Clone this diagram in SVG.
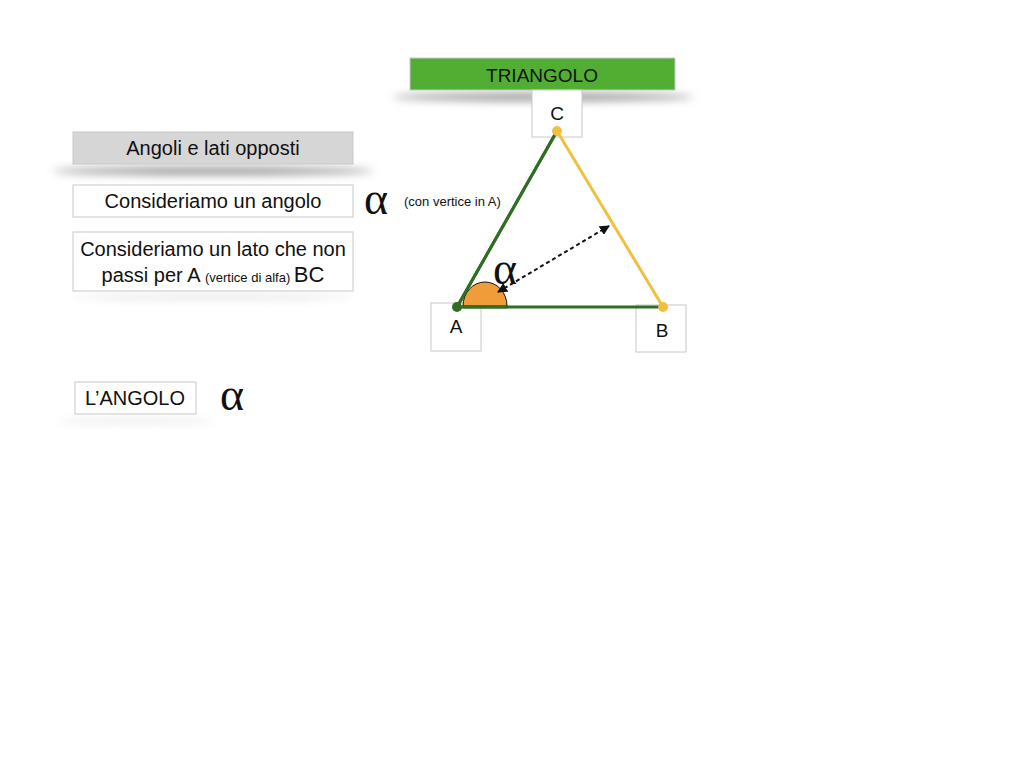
<svg xmlns="http://www.w3.org/2000/svg" width="1024" height="768" viewBox="0 0 1024 768">
<defs>
<style>
.t{font-family:"Liberation Sans",Arial,sans-serif;fill:#111}
.box{fill:#fff;stroke:#c8c8c8;stroke-width:1}
.al{font-family:"Liberation Serif","Times New Roman",serif;fill:#111}
</style>
<filter id="sh" x="-20%" y="-200%" width="140%" height="500%"><feGaussianBlur stdDeviation="4"/></filter>
<marker id="ah" viewBox="0 0 10 10" refX="9" refY="5" markerWidth="10" markerHeight="10" markerUnits="userSpaceOnUse" orient="auto-start-reverse"><path d="M0,0 L10,5 L0,10 z" fill="#111"/></marker>
</defs>
<rect width="1024" height="768" fill="#fff"/>
<g id="shadows">
<ellipse cx="543" cy="97" rx="150" ry="4" fill="#999" filter="url(#sh)"/>
<ellipse cx="213" cy="171" rx="160" ry="4" fill="#999" filter="url(#sh)"/>
<ellipse cx="213" cy="297" rx="140" ry="2" fill="#ddd" filter="url(#sh)"/>
<ellipse cx="136" cy="421" rx="80" ry="2" fill="#e4e4e4" filter="url(#sh)"/>
</g>
<g id="title"><rect x="410" y="58" width="265" height="32" fill="#52ae32" stroke="#c8c8c8" stroke-width="1"/><text class="t" x="542" y="82" font-size="19" text-anchor="middle">TRIANGOLO</text></g>
<g id="nodeC"><rect class="box" x="532" y="90" width="50" height="47" fill="none"/><text class="t" x="557" y="120" font-size="19" text-anchor="middle">C</text></g>
<g id="nodeA"><rect class="box" x="431" y="303" width="50" height="48"/><text class="t" x="456" y="333" font-size="19" text-anchor="middle">A</text></g>
<g id="nodeB"><rect class="box" x="636" y="305" width="50" height="47"/><text class="t" x="662" y="337" font-size="19" text-anchor="middle">B</text></g>
<g id="connectors">
<line x1="457" y1="307" x2="557" y2="131" stroke="#2f6e22" stroke-width="3"/>
<line x1="457" y1="307" x2="663" y2="307" stroke="#2f6e22" stroke-width="3"/>
<line x1="557" y1="131" x2="663" y2="307" stroke="#f0c040" stroke-width="3"/>
<path d="M463,306 A22,24 0 0 1 507,306 Z" fill="#f09c38" stroke="#111" stroke-width="1"/>
<line x1="457" y1="307" x2="557" y2="131" stroke="#2f6e22" stroke-width="3"/>
<line x1="463" y1="307" x2="507" y2="307" stroke="#2f6e22" stroke-width="3"/>
<circle cx="457" cy="307" r="5" fill="#2f6e22"/>
<circle cx="557" cy="131" r="5" fill="#f0c040"/>
<circle cx="663" cy="307" r="5" fill="#f0c040"/>
<line x1="498" y1="292" x2="609" y2="226" stroke="#111" stroke-width="2" stroke-dasharray="4,3" marker-start="url(#ah)" marker-end="url(#ah)"/>
</g>
<text class="al" x="493" y="284" font-size="46">α</text>
<g id="heading"><rect x="73" y="132" width="280" height="32" fill="#d6d6d6" stroke="#c8c8c8"/><text class="t" x="213" y="155" font-size="20" text-anchor="middle">Angoli e lati opposti</text></g>
<g id="box1"><rect class="box" x="73" y="185" width="280" height="32"/><text class="t" x="213" y="208" font-size="20" text-anchor="middle">Consideriamo un angolo</text></g>
<text class="al" x="364" y="214" font-size="46">α</text>
<text class="t" x="404" y="206" font-size="13">(con vertice in A)</text>
<g id="box2"><rect class="box" x="73" y="232" width="280" height="59"/><text class="t" x="213" y="256" font-size="20" text-anchor="middle">Consideriamo un lato che non</text><text class="t" x="213" y="282" text-anchor="middle"><tspan font-size="20">passi per A </tspan><tspan font-size="13">(vertice di alfa) </tspan><tspan font-size="22">BC</tspan></text></g>
<g id="box3"><rect class="box" x="75" y="382" width="121" height="32"/><text class="t" x="135" y="405" font-size="20" text-anchor="middle">L’ANGOLO</text></g>
<text class="al" x="220" y="410" font-size="46">α</text>
</svg>
